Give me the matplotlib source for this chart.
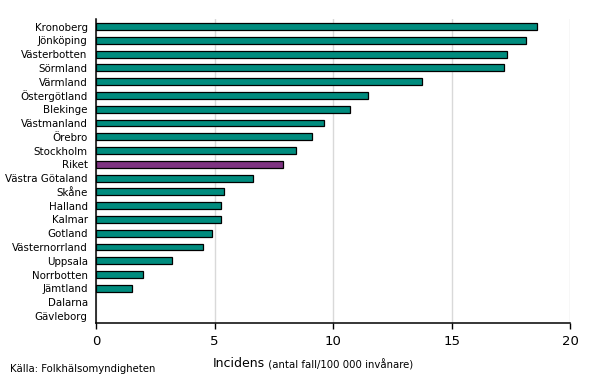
import matplotlib
matplotlib.use("Agg")
import matplotlib.pyplot as plt

# Incidens per län (antal fall/100 000 invånare)
regions = ["Kronoberg", "Jönköping", "Västerbotten", "Sörmland", "Värmland",
           "Östergötland", "Blekinge", "Västmanland", "Örebro", "Stockholm",
           "Riket", "Västra Götaland", "Skåne", "Halland", "Kalmar", "Gotland",
           "Västernorrland", "Uppsala", "Norrbotten", "Jämtland", "Dalarna",
           "Gävleborg"]
incidence = [18.6, 18.15, 17.35, 17.2, 13.75, 11.45, 10.7, 9.6, 9.1, 8.45,
             7.9, 6.6, 5.4, 5.25, 5.25, 4.9, 4.5, 3.2, 2.0, 1.5, 0.0, 0.0]
x_ticks = [0, 5, 10, 15, 20]

teal = "#008C7E"
purple = "#7F3482"

plt.rcParams["font.family"] = ["DejaVu Sans"]

fig = plt.figure(figsize=(6.05, 3.79), dpi=100)
ax = fig.add_axes([0.1587, 0.1485, 0.7839, 0.8014])

colors = [purple if r == "Riket" else teal for r in regions]
# zero values get no visible outline
edges = [0.9 if v > 0 else 0 for v in incidence]
ypos = list(range(len(regions)))
ax.barh(ypos, incidence, height=0.5, color=colors, edgecolor="black",
        linewidth=edges, zorder=3)

ax.set_ylim(len(regions) - 0.5, -0.55)
ax.set_xlim(0, 20)
ax.set_yticks(ypos)
ax.set_yticklabels(regions, fontsize=7.4)
ax.set_xticks(x_ticks)
ax.set_xticklabels([str(t) for t in x_ticks], fontsize=9.5)
ax.tick_params(axis="y", length=0, pad=6)
ax.tick_params(axis="x", length=4, width=1, direction="out", pad=5)

ax.grid(axis="x", color="#d9d9d9", linewidth=1, zorder=0)
for s in ["top", "right"]:
    ax.spines[s].set_visible(False)
ax.spines["left"].set_linewidth(1.1)
ax.spines["bottom"].set_linewidth(1.1)

# axis label with two font sizes
t1 = fig.text(213 / 605, 1 - 367 / 379, "Incidens", fontsize=9)
ax.annotate(" (antal fall/100 000 invånare)", xy=(1, 0), xycoords=t1,
            va="bottom", ha="left", fontsize=7.3)

fig.text(10 / 605, 1 - 372 / 379, "Källa: Folkhälsomyndigheten", fontsize=7.3)

fig.savefig("out.png", dpi=100)
